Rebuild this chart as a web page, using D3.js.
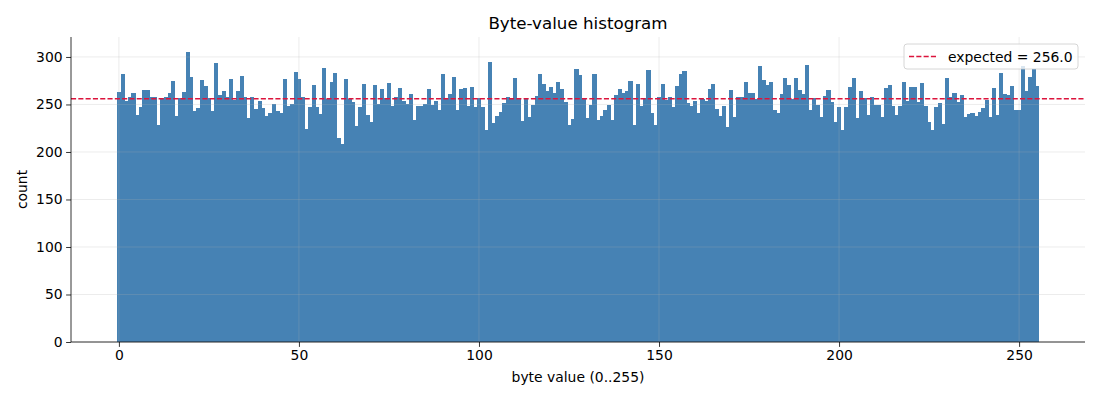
<!DOCTYPE html>
<html>
<head>
<meta charset="utf-8">
<script src="https://cdn.jsdelivr.net/npm/d3@7"></script>
<style>
  body { margin: 0; background: #fff; }
  svg { font-family: "DejaVu Sans", sans-serif; }
</style>
</head>
<body>
<svg id="chart" width="1100" height="400"></svg>
<script>
// count per byte value 0..255
var counts = [
  263,282,254,258,262,239,247,265,265,258,
  258,228,257,258,262,275,238,257,263,305,
  279,243,246,276,269,257,243,294,260,264,
  258,277,255,264,280,258,236,258,245,254,
  246,238,241,251,243,241,277,248,251,284,
  277,258,224,247,271,247,240,288,256,274,
  283,215,208,277,256,253,227,247,272,239,
  232,271,251,266,257,273,248,258,267,254,
  251,261,234,248,248,251,266,249,254,244,
  282,257,261,279,244,266,267,248,268,247,
  257,247,223,295,230,238,242,252,258,257,
  278,256,233,256,237,249,259,282,272,264,
  268,262,274,266,253,228,235,287,281,257,
  236,249,282,234,238,244,249,234,260,266,
  262,264,275,228,272,248,257,286,241,228,
  258,272,255,258,247,269,282,285,252,248,
  254,241,256,254,266,272,245,238,248,226,
  265,237,258,258,274,262,262,256,291,276,
  271,274,244,241,261,278,271,256,278,265,
  261,292,244,257,249,237,259,265,253,232,
  247,223,247,268,278,236,264,257,239,258,
  249,249,237,267,271,248,239,248,274,254,
  268,268,253,273,248,232,223,247,252,229,
  278,258,262,253,260,237,240,241,238,242,
  246,255,237,267,239,283,261,260,269,244,
  244,291,264,279,287,269
];
var expected = 256.0;
var xTicks = [0, 50, 100, 150, 200, 250];
var yTicks = [0, 50, 100, 150, 200, 250, 300];

var plotLeft = 71, plotRight = 1085, plotTop = 37, plotBottom = 342;

var svg = d3.select('#chart');

var x = d3.scaleLinear().domain([-13.3, 268.3]).range([plotLeft, plotRight]);
var y = d3.scaleLinear().domain([0, 321]).range([plotBottom, plotTop]);

// bars, one per byte value
svg.append('g')
  .attr('shape-rendering', 'crispEdges')
  .selectAll('rect')
  .data(counts)
  .enter()
  .append('rect')
  .attr('x', function(d, i) { return x(i - 0.5); })
  .attr('width', function(d, i) { return x(i + 0.5) - x(i - 0.5) + 0.5; })
  .attr('y', function(d) { return y(d); })
  .attr('height', function(d) { return y(0) - y(d); })
  .attr('fill', '#4682b4');

// grid on top of bars
var grid = svg.append('g').attr('stroke', '#b0b0b0').attr('stroke-opacity', 0.3).attr('stroke-width', 0.8);
grid.selectAll('line.gx')
  .data(xTicks)
  .enter()
  .append('line')
  .attr('x1', function(d) { return x(d); })
  .attr('x2', function(d) { return x(d); })
  .attr('y1', plotTop)
  .attr('y2', plotBottom);
grid.selectAll('line.gy')
  .data(yTicks)
  .enter()
  .append('line')
  .attr('x1', plotLeft)
  .attr('x2', plotRight)
  .attr('y1', function(d) { return y(d); })
  .attr('y2', function(d) { return y(d); });

// expected line
svg.append('line')
  .attr('x1', plotLeft).attr('x2', plotRight)
  .attr('y1', y(expected)).attr('y2', y(expected))
  .attr('stroke', '#dc143c')
  .attr('stroke-width', 1.3)
  .attr('stroke-dasharray', '5.1,2.2');

// axes
var xAxis = d3.axisBottom(x).tickValues(xTicks).tickSize(4.9).tickPadding(3.5).tickFormat(d3.format('d'));
var yAxis = d3.axisLeft(y).tickValues(yTicks).tickSize(4.9).tickPadding(3.5).tickFormat(d3.format('d'));

var gx = svg.append('g').attr('transform', 'translate(0,' + plotBottom + ')').call(xAxis);
var gy = svg.append('g').attr('transform', 'translate(' + plotLeft + ',0)').call(yAxis);
[gx, gy].forEach(function(g) {
  g.select('.domain').remove();
  g.selectAll('line').attr('stroke', '#000').attr('stroke-width', 0.8);
  g.selectAll('text').attr('font-size', 13.9).attr('fill', '#000').attr('font-family', '"DejaVu Sans", sans-serif');
});

// left and bottom spines only
svg.append('line').attr('x1', plotLeft).attr('x2', plotLeft).attr('y1', plotTop).attr('y2', plotBottom)
  .attr('stroke', '#000').attr('stroke-width', 0.8);
svg.append('line').attr('x1', plotLeft).attr('x2', plotRight).attr('y1', plotBottom).attr('y2', plotBottom)
  .attr('stroke', '#000').attr('stroke-width', 0.8);

// labels
svg.append('text')
  .attr('x', (plotLeft + plotRight) / 2).attr('y', 29)
  .attr('text-anchor', 'middle')
  .attr('font-size', 16.7)
  .text('Byte-value histogram');

svg.append('text')
  .attr('x', (plotLeft + plotRight) / 2).attr('y', 382)
  .attr('text-anchor', 'middle')
  .attr('font-size', 13.9)
  .text('byte value (0..255)');

svg.append('text')
  .attr('transform', 'translate(27,' + ((plotTop + plotBottom) / 2) + ') rotate(-90)')
  .attr('text-anchor', 'middle')
  .attr('font-size', 13.9)
  .text('count');

// legend
var legend = svg.append('g').attr('transform', 'translate(904,44)');
legend.append('rect')
  .attr('width', 174).attr('height', 25)
  .attr('rx', 3).attr('ry', 3)
  .attr('fill', '#fff').attr('fill-opacity', 0.8)
  .attr('stroke', '#cccccc').attr('stroke-width', 0.8);
legend.append('line')
  .attr('x1', 5).attr('x2', 33).attr('y1', 12.5).attr('y2', 12.5)
  .attr('stroke', '#dc143c').attr('stroke-width', 1.3)
  .attr('stroke-dasharray', '5.1,2.2');
legend.append('text')
  .attr('x', 44).attr('y', 17.5)
  .attr('font-size', 13.9)
  .text('expected = ' + expected.toFixed(1));
</script>
</body>
</html>
